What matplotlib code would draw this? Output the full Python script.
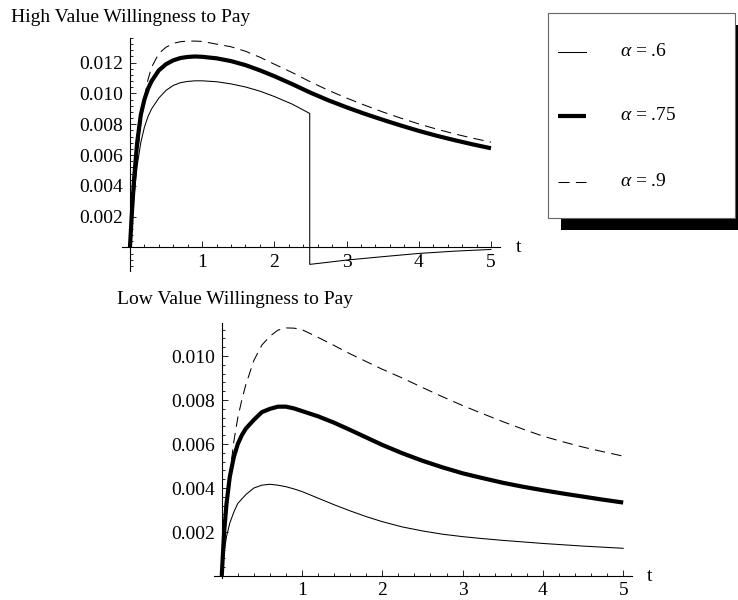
import matplotlib
matplotlib.use('Agg')
import matplotlib.pyplot as plt
import numpy as np
from matplotlib.ticker import FixedLocator, FuncFormatter
from matplotlib.patches import Rectangle
from matplotlib.lines import Line2D

plt.rcParams['font.family'] = ['Liberation Serif', 'DejaVu Serif']
plt.rcParams['mathtext.fontset'] = 'custom'
plt.rcParams['mathtext.rm'] = 'Liberation Serif'
plt.rcParams['mathtext.it'] = 'Liberation Serif:italic'
plt.rcParams['lines.scale_dashes'] = False

# ---------------- data ----------------
t_grid = [0, 0.03, 0.06, 0.1, 0.15, 0.2, 0.25, 0.3, 0.4, 0.5, 0.6, 0.7, 0.8, 0.9, 1.0,
          1.2, 1.4, 1.6, 1.8, 2.0, 2.25, 2.5, 2.75, 3.0, 3.25, 3.5, 3.75, 4.0,
          4.25, 4.5, 4.75, 5.0]

# High value, alpha = .75 (thick)
hi_75 = [0, 0.0025, 0.0046, 0.0068, 0.0086, 0.0096, 0.0103, 0.0108, 0.0115, 0.0119,
         0.01215, 0.0123, 0.01237, 0.0124, 0.01238, 0.01228, 0.0121, 0.01184, 0.0115,
         0.01112, 0.0106, 0.01005, 0.00955, 0.0091, 0.00868, 0.00829, 0.00792, 0.00757,
         0.00725, 0.00696, 0.00669, 0.00644]
# High value, alpha = .9 (dashed)
hi_9 = [0, 0.0018, 0.0036, 0.0058, 0.0080, 0.0097, 0.0109, 0.0117, 0.0126, 0.0130,
        0.01325, 0.01336, 0.0134, 0.0134, 0.01338, 0.0132, 0.01303, 0.01274, 0.01235,
        0.0119, 0.01135, 0.01075, 0.0102, 0.0097, 0.00924, 0.0088, 0.0084, 0.00802,
        0.00768, 0.00737, 0.00709, 0.00684]
# High value, alpha = .6 (thin) - has a jump
t_hi6 = [0, 0.03, 0.06, 0.1, 0.15, 0.2, 0.25, 0.3, 0.4, 0.5, 0.6, 0.7, 0.8, 0.9, 1.0,
         1.2, 1.4, 1.6, 1.8, 2.0, 2.25, 2.49, 2.49, 2.75, 3.0, 3.5, 4.0, 4.5, 5.0]
hi_6 = [0, 0.0018, 0.0035, 0.0053, 0.0068, 0.0078, 0.0085, 0.0090, 0.0097, 0.0102,
        0.01052, 0.0107, 0.01078, 0.01082, 0.01082, 0.01076, 0.01062, 0.01042, 0.01015,
        0.0098, 0.0093, 0.0087, -0.0011, -0.00096, -0.00082, -0.0006, -0.00039,
        -0.00024, -0.00013]

# Low value
lo_9 = [0, 0.0015, 0.0030, 0.0046, 0.0061, 0.0072, 0.0080, 0.0087, 0.0098, 0.0105,
        0.0109, 0.01118, 0.01128, 0.01127, 0.0112, 0.01085, 0.01048, 0.0101, 0.00975,
        0.0094, 0.0090, 0.00857, 0.00815, 0.00775, 0.00738, 0.00702, 0.00668, 0.00636,
        0.0061, 0.00586, 0.00565, 0.00545]
lo_75 = [0, 0.0020, 0.0033, 0.0045, 0.0054, 0.0060, 0.0064, 0.0067, 0.0071, 0.00745,
         0.0076, 0.0077, 0.0077, 0.00762, 0.0075, 0.00726, 0.00697, 0.00664, 0.0063,
         0.00596, 0.00558, 0.00524, 0.00494, 0.00467, 0.00445, 0.00424, 0.00406, 0.0039,
         0.00375, 0.00361, 0.00347, 0.00334]
lo_6 = [0, 0.0011, 0.0018, 0.0024, 0.0029, 0.0033, 0.0035, 0.0037, 0.0040, 0.00413,
        0.00417, 0.00413, 0.00406, 0.00396, 0.00384, 0.00354, 0.00324, 0.00296, 0.0027,
        0.00247, 0.00223, 0.00205, 0.0019, 0.00179, 0.0017, 0.00162, 0.00155, 0.00148,
        0.00142, 0.00136, 0.00131, 0.00126]

legend_labels = [r'$\alpha$ = .6', r'$\alpha$ = .75', r'$\alpha$ = .9']
titles = ['High Value Willingness to Pay', 'Low Value Willingness to Pay']
x_major = [1, 2, 3, 4, 5]
hi_yticks = [0.002, 0.004, 0.006, 0.008, 0.010, 0.012]
lo_yticks = [0.002, 0.004, 0.006, 0.008, 0.010]

# ---------------- figure ----------------
W, H = 738, 600
fig = plt.figure(figsize=(W / 100, H / 100), dpi=100)
FS = 14

def px_rect(x0, y0, x1, y1):
    return [x0 / W, 1 - y1 / H, (x1 - x0) / W, (y1 - y0) / H]

ax1 = fig.add_axes(px_rect(122, 38, 500, 271))
ax2 = fig.add_axes(px_rect(213.7, 323.3, 631.7, 578.2))

thin = dict(color='black', lw=0.75, solid_joinstyle='round')
thick = dict(color='black', lw=3.0, solid_capstyle='butt', solid_joinstyle='round')
dashed = dict(color='black', lw=0.75, dashes=(7.5, 4.5))

ax1.plot(t_hi6, hi_6, clip_on=False, **thin)
ax1.plot(t_grid, hi_75, clip_on=False, **thick)
ax1.plot(t_grid, hi_9, clip_on=False, **dashed)

ax2.plot(t_grid, lo_6, clip_on=False, **thin)
ax2.plot(t_grid, lo_75, clip_on=False, **thick)
ax2.plot(t_grid, lo_9, clip_on=False, **dashed)


def style_axes(ax, xlim, ylim, yticks):
    ax.set_xlim(*xlim)
    ax.set_ylim(*ylim)
    ax.patch.set_visible(False)
    for s in ['top', 'right']:
        ax.spines[s].set_visible(False)
    ax.spines['left'].set_position(('data', 0))
    ax.spines['bottom'].set_position(('data', 0))
    for s in ['left', 'bottom']:
        ax.spines[s].set_linewidth(0.8)
    ax.xaxis.set_major_locator(FixedLocator(x_major))
    xmin = [round(v, 1) for v in np.arange(0.2, 5.01, 0.2) if abs(v - round(v)) > 1e-6]
    ax.xaxis.set_minor_locator(FixedLocator(xmin))
    ax.yaxis.set_major_locator(FixedLocator(yticks))
    ymin = [v for v in np.arange(-0.0012, ylim[1] + 1e-9, 0.0004)
            if v >= ylim[0] and abs(v / 0.002 - round(v / 0.002)) > 1e-6]
    ax.yaxis.set_minor_locator(FixedLocator(ymin))
    ax.xaxis.set_major_formatter(FuncFormatter(lambda v, p: '%d' % v))
    ax.yaxis.set_major_formatter(FuncFormatter(lambda v, p: '%.3f' % v))
    ax.tick_params(which='major', direction='in', length=4.0, width=0.6, labelsize=FS)
    ax.tick_params(which='minor', direction='in', length=2.2, width=0.6)
    ax.tick_params(axis='y', which='major', pad=5)
    ax.tick_params(axis='x', which='major', pad=4.5)
    ax.annotate('t', xy=(1, 0), xycoords=('axes fraction', 'data'), xytext=(13, 0),
                textcoords='offset points', ha='center', va='center', fontsize=FS)


style_axes(ax1, (-0.11, 5.125), (-0.00153, 0.0136), hi_yticks)
style_axes(ax2, (-0.1, 5.106), (-0.0001, 0.01149), lo_yticks)

fig.text(10.7 / W, 1 - 17 / H, titles[0], ha='left', va='center', fontsize=FS)
fig.text(117 / W, 1 - 299 / H, titles[1], ha='left', va='center', fontsize=FS)

# ---------------- legend (manual, with drop shadow) ----------------
bx0, by0, bx1, by1 = 547.7, 13.3, 735, 218.3
off_x, off_y = 13, 12
fig.patches.append(Rectangle(((bx0 + off_x) / W, 1 - (by1 + off_y) / H),
                             (bx1 - bx0) / W, (by1 - by0) / H,
                             transform=fig.transFigure, facecolor='black',
                             edgecolor='none', zorder=5))
fig.patches.append(Rectangle((bx0 / W, 1 - by1 / H), (bx1 - bx0) / W, (by1 - by0) / H,
                             transform=fig.transFigure, facecolor='white',
                             edgecolor='#666666', lw=0.8, zorder=6))
rows = [51.7, 115.7, 181.7]
styles = [thin, thick, dict(color='black', lw=0.75, dashes=(8, 4.5))]
for ry, st, lab in zip(rows, styles, legend_labels):
    fig.lines.append(Line2D([557.7 / W, 585.7 / W], [1 - ry / H, 1 - ry / H],
                            transform=fig.transFigure, zorder=7, **st))
    fig.text(620 / W, 1 - ry / H, lab, ha='left', va='center', fontsize=FS, zorder=7)

fig.savefig('out.png', dpi=100)
